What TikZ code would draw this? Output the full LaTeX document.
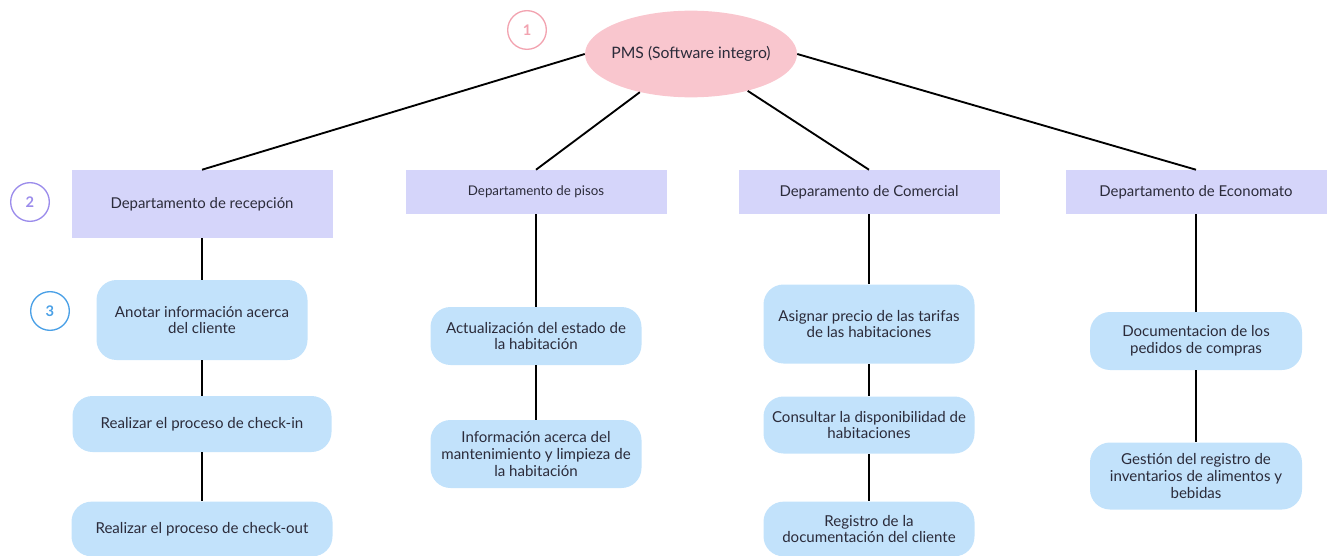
\documentclass[tikz,border=0pt]{standalone}
\usepackage{fontspec}
\setmainfont{Lato}
\usetikzlibrary{shapes.geometric,positioning}
\definecolor{pmsrosa}{HTML}{F9C6CE}
\definecolor{numrosa}{HTML}{F2A3B0}
\definecolor{deptlila}{HTML}{D5D5FA}
\definecolor{numlila}{HTML}{9B8CEB}
\definecolor{tareaazul}{HTML}{C2E2FB}
\definecolor{numazul}{HTML}{4AA0E6}
\definecolor{tinta}{HTML}{2B2B3A}
\tikzset{dept/.style={fill=deptlila, text=tinta, font=\fontsize{11.2}{13}\selectfont, minimum width=195.75pt, minimum height=33pt, inner sep=2pt}, tarea/.style={fill=tareaazul, text=tinta, font=\fontsize{11.3}{12.4}\selectfont, align=center, rounded corners=15pt, minimum width=158.25pt, inner sep=2pt}, num/.style={circle, draw, line width=1pt, minimum size=29pt, inner sep=0pt, font=\bfseries\fontsize{11}{13}\selectfont}, rama/.style={line width=1.4pt, draw=black}}

\begin{document}
\begin{tikzpicture}[x=0.75pt,y=-0.75pt]
\useasboundingbox (0,0) rectangle (1332,556);
% nivel 1
\node[ellipse, fill=pmsrosa, text=tinta, font=\fontsize{11.8}{13}\selectfont, minimum width=159pt, minimum height=65pt, inner sep=0pt] (pms) at (691,54) {\makebox[100pt]{PMS (Software integro)}};
\node[num, draw=numrosa, text=numrosa] (n1) at (527,30) {1};
% nivel 2
\node[dept, minimum height=51pt] (recep) at (202,204) {Departamento de recepción};
\node[dept, font=\fontsize{10}{12}\selectfont] (pisos) at (536,192) {Departamento de pisos};
\node[dept] (comer) at (869,192) {Deparamento de Comercial};
\node[dept] (econ) at (1196,192) {Departamento de Economato};
\node[num, draw=numlila, text=numlila] (n2) at (30,202) {2};
% nivel 3
\node[tarea, minimum height=60pt] (recA) at (202,320) {Anotar información acerca\\del cliente};
\node[tarea, minimum width=194.25pt, minimum height=42pt] (recB) at (202,424) {Realizar el proceso de check-in};
\node[tarea, minimum width=195.75pt, minimum height=41pt] (recC) at (202,529) {Realizar el proceso de check-out};
\node[num, draw=numazul, text=numazul] (n3) at (50,311) {3};
\node[tarea, minimum height=43.5pt] (pisA) at (536,336) {Actualización del estado de\\la habitación};
\node[tarea, minimum height=51pt] (pisB) at (536,454) {Información acerca del\\mantenimiento y limpieza de\\la habitación};
\node[tarea, minimum height=59.25pt] (comA) at (869,324) {Asignar precio de las tarifas\\de las habitaciones};
\node[tarea, minimum height=42.75pt] (comB) at (869,425) {Consultar la disponibilidad de\\habitaciones};
\node[tarea, minimum height=41pt] (comC) at (869,529) {Registro de la\\documentación del cliente};
\node[tarea, minimum width=159pt, minimum height=43.5pt] (ecoA) at (1196,341) {Documentacion de los\\pedidos de compras};
\node[tarea, minimum width=159pt, minimum height=50.25pt] (ecoB) at (1196,476) {Gestión del registro de\\inventarios de alimentos y\\bebidas};
% ramas
\draw[rama] (pms.west) -- (recep.north);
\draw[rama] (pms) -- (pisos.north);
\draw[rama] (pms) -- (comer.north);
\draw[rama] (pms.east) -- (econ.north);
\draw[rama] (recep) -- (recA) -- (recB) -- (recC);
\draw[rama] (pisos) -- (pisA) -- (pisB);
\draw[rama] (comer) -- (comA) -- (comB) -- (comC);
\draw[rama] (econ) -- (ecoA) -- (ecoB);
\end{tikzpicture}
\end{document}
